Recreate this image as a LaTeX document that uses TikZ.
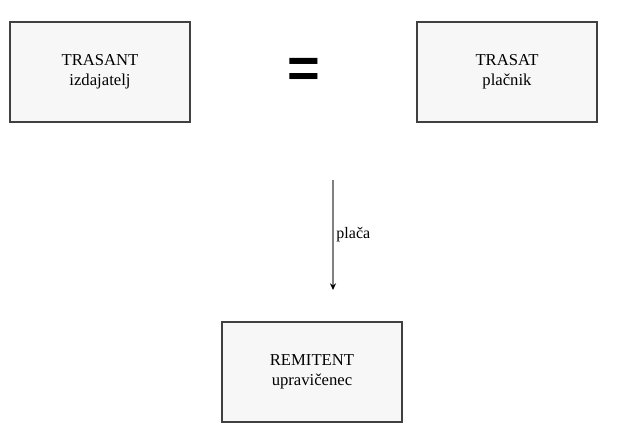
\documentclass[tikz,border=0pt]{standalone}
\usepackage{fontspec}
\setmainfont{Liberation Serif}
\newfontfamily\eqfont{Liberation Sans}
\usetikzlibrary{arrows.meta}
\definecolor{boxfill}{HTML}{F7F7F7}
\definecolor{boxline}{HTML}{404040}
\tikzset{
	party/.style={draw=boxline, fill=boxfill, line width=1.5pt, minimum width=135pt, minimum height=75pt, align=center, font=\fontsize{12.5}{15}\selectfont},
	flow/.style={-{Stealth[length=5pt,width=4.5pt,black]}, draw=gray, line width=1.2pt}
}

\begin{document}
\begin{tikzpicture}[x=0.75pt,y=-0.75pt]
	\useasboundingbox (0,0) rectangle (626,440);

	% draw parties
	\node[party] (trasant) at (100,72) {TRASANT\\izdajatelj};
	\node[party] (trasat) at (507,72) {TRASAT\\plačnik};
	\node[party] (remitent) at (312,372) {REMITENT\\upravičenec};

	% draw equals sign
	\node[font=\eqfont\bfseries\fontsize{42}{42}\selectfont] (equal) at (304,73) {=};

	% draw payment arrow
	\coordinate (pay_top) at (333,180);
	\coordinate (pay_bot) at (333,290);
	\draw[flow] (pay_top) -- node[right, inner sep=2pt, font=\fontsize{12}{14}\selectfont] {plača} (pay_bot);

\end{tikzpicture}
\end{document}
